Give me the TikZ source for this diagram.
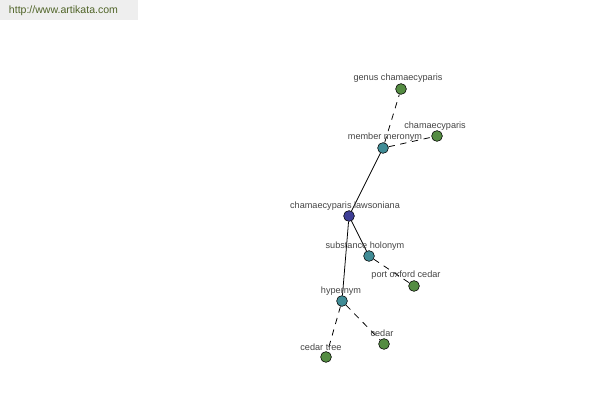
\documentclass[tikz,border=0pt]{standalone}
\usepackage{fontspec}
\setmainfont{Liberation Sans}
\usetikzlibrary{positioning}
\definecolor{leafgreen}{RGB}{84, 140, 66}
\definecolor{relteal}{RGB}{64, 140, 150}
\definecolor{rootblue}{RGB}{62, 62, 150}
\definecolor{labelgray}{RGB}{68, 68, 68}
\definecolor{bannergray}{RGB}{238, 238, 238}
\definecolor{bannergreen}{RGB}{80, 100, 40}

\begin{document}
\begin{tikzpicture}[
  x=0.025cm, y=-0.025cm,
  every node/.style={font=\fontsize{6.5}{7.5}\selectfont, text=labelgray},
  dot/.style={circle, draw=black, line width=0.4pt, minimum size=0.27cm, inner sep=0pt},
  leaf/.style={dot, fill=leafgreen},
  rel/.style={dot, fill=relteal},
  root/.style={dot, fill=rootblue},
  lbl/.style={inner sep=1pt},
  link/.style={line width=0.55pt},
  weak/.style={line width=0.55pt, dash pattern=on 4.5pt off 4pt}
]
\useasboundingbox (0,0) rectangle (600,400);

% Site banner
\fill[bannergray] (0,0) rectangle (138,20);
\node[text=bannergreen, font=\fontsize{7.5}{9}\selectfont, anchor=west] (site) at (4,11)
  {http://www.artikata.com};

% Word and relation dots
\node[root] (lawson)  at (349,216) {};
\node[rel]  (meronym) at (383,148) {};
\node[rel]  (holonym) at (369,256) {};
\node[rel]  (hyper)   at (342,301) {};
\node[leaf] (genus)   at (401,89)  {};
\node[leaf] (chamae)  at (437,136) {};
\node[leaf] (port)    at (414,286) {};
\node[leaf] (cedar)   at (384,344) {};
\node[leaf] (ctree)   at (326,357) {};

% Connectors
\foreach \r in {meronym,holonym,hyper}{
  \draw[link] (lawson) -- (\r);
}
\draw[weak] (meronym) -- (genus);
\draw[weak] (meronym) -- (chamae);
\draw[weak] (holonym) -- (port);
\draw[weak] (hyper) -- (cedar);
\draw[weak] (hyper) -- (ctree);

% Labels
\node[lbl] (lawsonL)  at (345,206.5) {chamaecyparis lawsoniana};
\node[lbl] (meronymL) at (385,137.5) {member meronym};
\node[lbl] (holonymL) at (365,246.5) {substance holonym};
\node[lbl] (hyperL)   at (341,291.5) {hypernym};
\node[lbl] (genusL)   at (398,78.5)  {genus chamaecyparis};
\node[lbl] (chamaeL)  at (435,126.5) {chamaecyparis};
\node[lbl] (portL)    at (406,275.5) {port oxford cedar};
\node[lbl] (cedarL)   at (382,333.5) {cedar};
\node[lbl] (ctreeL)   at (321,347.5) {cedar tree};

\end{tikzpicture}
\end{document}
